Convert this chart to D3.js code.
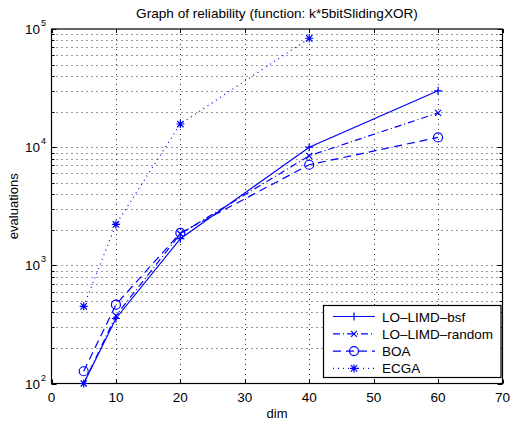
<!DOCTYPE html>
<html><head><meta charset="utf-8">
<script src="https://cdn.jsdelivr.net/npm/d3@7"></script>
<style>body{margin:0;background:#fff}svg{display:block}text{font-family:"Liberation Sans",Arial,sans-serif;fill:#000}</style>
</head><body>
<script>
const dims = [5, 10, 20, 40, 60];
const bsf = [100, 355, 1680, 10000, 30000];
const random = [100, 375, 1850, 8450, 19500];
const boa = [127, 465, 1880, 7100, 12100];
const ecgaDims = [5, 10, 20, 40];
const ecga = [450, 2220, 15700, 83500];
const xTicks = [0, 10, 20, 30, 40, 50, 60, 70];
const yTicks = [100, 1000, 10000, 100000];
const yTickExp = ["2", "3", "4", "5"];
const seriesNames = ["LO–LIMD–bsf", "LO–LIMD–random", "BOA", "ECGA"];

const W = 511, H = 423;
const L = 51.5, R = 502.5, T = 29, B = 383.5;
const svg = d3.select("body").append("svg").attr("width", W).attr("height", H);
const x = d3.scaleLinear().domain([0, 70]).range([L, R]);
const y = d3.scaleLog().domain([100, 100000]).range([B, T]);
const blue = "#0000ff";

// grid
const minor = [];
for (let e = 2; e < 5; e++) for (let m = 2; m <= 9; m++) minor.push(m * Math.pow(10, e));
const g = svg.append("g");
const hy = minor.concat(yTicks.slice(1, 3));
g.selectAll("line.hg").data(hy).enter().append("line")
  .attr("x1", L).attr("x2", R).attr("y1", d => Math.round(y(d)) + 0.5).attr("y2", d => Math.round(y(d)) + 0.5)
  .attr("stroke", "#333").attr("stroke-width", 1).attr("stroke-dasharray", "1,4");
g.selectAll("line.vg").data(xTicks.slice(1, -1)).enter().append("line")
  .attr("y1", T).attr("y2", B).attr("x1", d => Math.round(x(d)) + 0.5).attr("x2", d => Math.round(x(d)) + 0.5)
  .attr("stroke", "#333").attr("stroke-width", 1).attr("stroke-dasharray", "1,4");

// ticks inside
const tk = svg.append("g").attr("stroke", "#000").attr("stroke-width", 1);
xTicks.forEach(d => {
  const xx = Math.round(x(d)) + 0.5;
  tk.append("line").attr("x1", xx).attr("x2", xx).attr("y1", B).attr("y2", B - 4);
  tk.append("line").attr("x1", xx).attr("x2", xx).attr("y1", T).attr("y2", T + 4);
});
yTicks.forEach(d => {
  const yy = Math.round(y(d)) + 0.5;
  tk.append("line").attr("x1", L).attr("x2", L + 5).attr("y1", yy).attr("y2", yy);
  tk.append("line").attr("x1", R).attr("x2", R - 5).attr("y1", yy).attr("y2", yy);
});
minor.forEach(d => {
  const yy = Math.round(y(d)) + 0.5;
  tk.append("line").attr("x1", L).attr("x2", L + 3).attr("y1", yy).attr("y2", yy);
  tk.append("line").attr("x1", R).attr("x2", R - 3).attr("y1", yy).attr("y2", yy);
});
svg.append("rect").attr("x", L).attr("y", T).attr("width", R - L).attr("height", B - T)
  .attr("fill", "none").attr("stroke", "#000").attr("stroke-width", 1.2);

// tick labels
svg.selectAll("text.xt").data(xTicks).enter().append("text")
  .attr("x", d => x(d)).attr("y", 402).attr("text-anchor", "middle").attr("font-size", 13.5).text(d => d);
yTicks.forEach((d, i) => {
  svg.append("text").attr("x", 40).attr("y", y(d) + 5).attr("text-anchor", "end").attr("font-size", 13.5).text("10");
  svg.append("text").attr("x", 41).attr("y", y(d) - 3).attr("font-size", 9).text(yTickExp[i]);
});
svg.append("text").attr("x", x(35)).attr("y", 418).attr("text-anchor", "middle").attr("font-size", 13).text("dim");
svg.append("text").attr("transform", `translate(18,${(T + B) / 2}) rotate(-90)`).attr("text-anchor", "middle").attr("font-size", 13).text("evaluations");
svg.append("text").attr("x", (L + R) / 2).attr("y", 18).attr("text-anchor", "middle").attr("font-size", 13.6).text("Graph of reliability (function: k*5bitSlidingXOR)");

// series
const series = [
  {name: seriesNames[0], xs: dims, ys: bsf, dash: null, marker: "plus"},
  {name: seriesNames[1], xs: dims, ys: random, dash: "7,3,1,3", marker: "x"},
  {name: seriesNames[2], xs: dims, ys: boa, dash: "8,5", marker: "circle"},
  {name: seriesNames[3], xs: ecgaDims, ys: ecga, dash: "1,4", marker: "star"}
];
const line = d3.line().x(d => x(d[0])).y(d => y(d[1]));
function drawMarker(sel, type, cx, cy) {
  const s = 4;
  if (type === "plus") {
    sel.append("path").attr("d", `M${cx - s},${cy}H${cx + s}M${cx},${cy - s}V${cy + s}`);
  } else if (type === "x") {
    const k = 3;
    sel.append("path").attr("d", `M${cx - k},${cy - k}L${cx + k},${cy + k}M${cx - k},${cy + k}L${cx + k},${cy - k}`);
  } else if (type === "circle") {
    sel.append("circle").attr("cx", cx).attr("cy", cy).attr("r", 4.5).attr("fill", "none");
  } else if (type === "star") {
    const k = 3.2;
    sel.append("path").attr("d", `M${cx - s},${cy}H${cx + s}M${cx},${cy - s}V${cy + s}M${cx - k},${cy - k}L${cx + k},${cy + k}M${cx - k},${cy + k}L${cx + k},${cy - k}`);
  }
}
series.forEach(s => {
  const pts = s.xs.map((d, i) => [d, s.ys[i]]);
  const gg = svg.append("g").attr("stroke", blue).attr("fill", "none").attr("stroke-width", 1.2);
  const p = gg.append("path").attr("d", line(pts));
  if (s.dash) p.attr("stroke-dasharray", s.dash);
  pts.forEach(pt => drawMarker(gg, s.marker, x(pt[0]), y(pt[1])));
});

// legend
const lg = svg.append("g");
lg.append("rect").attr("x", 323.5).attr("y", 305.5).attr("width", 177.5).attr("height", 72)
  .attr("fill", "#fff").attr("stroke", "#000").attr("stroke-width", 1.2);
series.forEach((s, i) => {
  const yy = 316.5 + i * 17.3;
  const gg = lg.append("g").attr("stroke", blue).attr("fill", "none").attr("stroke-width", 1.2);
  const p = gg.append("line").attr("x1", 333).attr("x2", 375).attr("y1", yy).attr("y2", yy);
  if (s.dash) p.attr("stroke-dasharray", s.dash);
  drawMarker(gg, s.marker, 354, yy);
  lg.append("text").attr("x", 382).attr("y", yy + 5).attr("font-size", 13.5).text(s.name);
});
</script>
</body></html>
